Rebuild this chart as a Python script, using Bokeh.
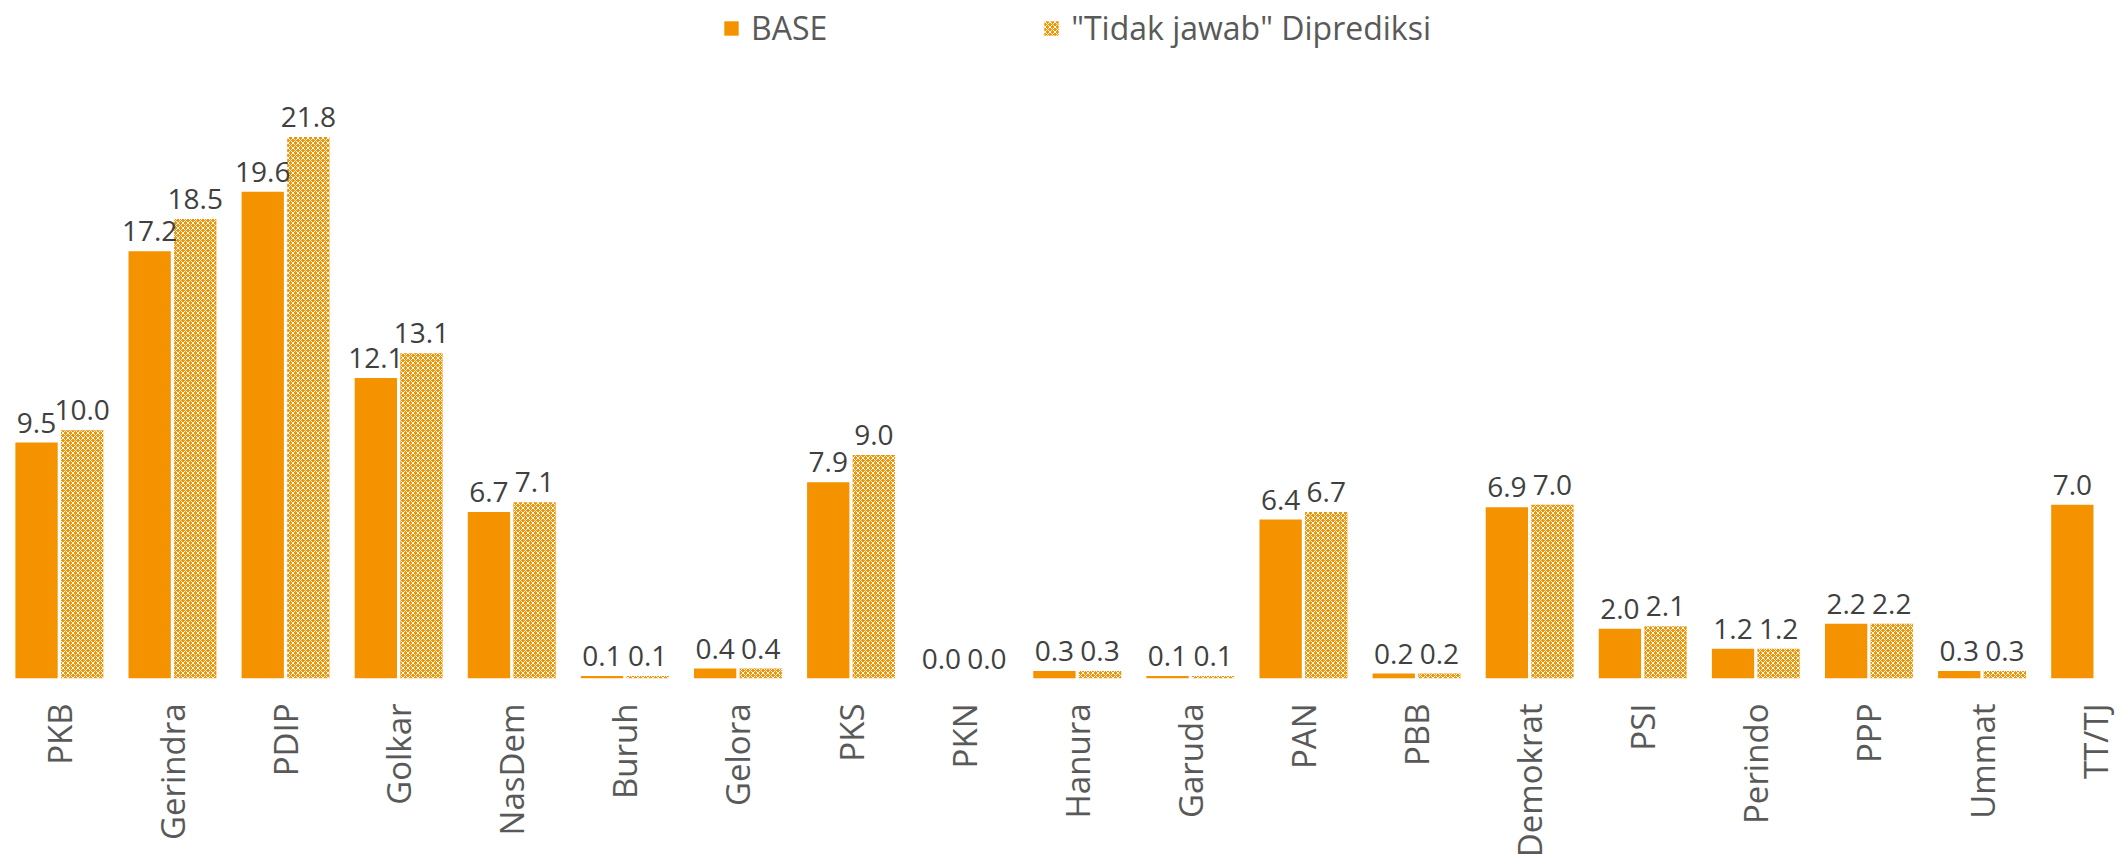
import math
from bokeh.plotting import figure
from bokeh.models import ColumnDataSource, Range1d, FixedTicker, Legend, LegendItem, LabelSet
from bokeh.core.properties import value
from bokeh.embed import file_html
from bokeh.resources import INLINE

parties = ["PKB", "Gerindra", "PDIP", "Golkar", "NasDem", "Buruh", "Gelora", "PKS", "PKN",
           "Hanura", "Garuda", "PAN", "PBB", "Demokrat", "PSI", "Perindo", "PPP", "Ummat", "TT/TJ"]
base = [9.5, 17.2, 19.6, 12.1, 6.7, 0.1, 0.4, 7.9, 0.0, 0.3, 0.1, 6.4, 0.2, 6.9, 2.0, 1.2, 2.2, 0.3, 7.0]
pred = [10.0, 18.5, 21.8, 13.1, 7.1, 0.1, 0.4, 9.0, 0.0, 0.3, 0.1, 6.7, 0.2, 7.0, 2.1, 1.2, 2.2, 0.3, None]
series_names = ["BASE", '"Tidak jawab" Diprediksi']

ORANGE = "#F59200"
FONT = "Open Sans"
OFF = 0.2016
BW = 0.374

idx = list(range(len(parties)))
src_b = ColumnDataSource(dict(x=[i - OFF for i in idx], top=base,
                              lbl=[f"{v:.1f}" for v in base]))
pi = [i for i in idx if pred[i] is not None]
src_p = ColumnDataSource(dict(x=[i + OFF for i in pi], top=[pred[i] for i in pi],
                              lbl=[f"{pred[i]:.1f}" for i in pi]))

p = figure(width=2128, height=867, output_backend="svg", toolbar_location=None,
           x_range=Range1d(-0.5203, 18.295), y_range=Range1d(0, 27.30),
           min_border_left=0, min_border_right=0, min_border_top=0, min_border_bottom=189)
p.outline_line_color = None
p.grid.visible = False
p.yaxis.visible = False
p.background_fill_color = "white"

r1 = p.vbar(x="x", top="top", width=BW, source=src_b, fill_color=ORANGE, line_color=None)
r2 = p.vbar(x="x", top="top", width=BW, source=src_p, fill_color=ORANGE, line_color=None,
            hatch_pattern="diagonal_cross", hatch_color="white", hatch_scale=5, hatch_weight=1.0)

for s in (src_b, src_p):
    p.add_layout(LabelSet(x="x", y="top", text="lbl", source=s, text_align="center",
                          text_baseline="alphabetic", y_offset=10,
                          text_font=value(FONT), text_font_size="28px", text_color="#404040"))

ax = p.xaxis[0]
ax.ticker = FixedTicker(ticks=idx)
ax.major_label_overrides = {i: n for i, n in zip(idx, parties)}
ax.major_label_orientation = math.pi / 2
ax.major_label_text_font = FONT
ax.major_label_text_font_size = "33px"
ax.major_label_text_color = "#595959"
ax.major_label_standoff = 19
ax.axis_line_color = None
ax.major_tick_line_color = None
ax.minor_tick_line_color = None

legend = Legend(items=[LegendItem(label=series_names[0], renderers=[r1]),
                       LegendItem(label=series_names[1], renderers=[r2])],
                orientation="horizontal", location=(722, 629),
                glyph_width=18, glyph_height=18, label_standoff=11, spacing=215,
                label_text_font=FONT, label_text_font_size="32px", label_text_color="#595959",
                border_line_color=None, background_fill_alpha=0, padding=0, margin=0)
p.add_layout(legend)

open("out.html", "w").write(file_html(p, INLINE))
